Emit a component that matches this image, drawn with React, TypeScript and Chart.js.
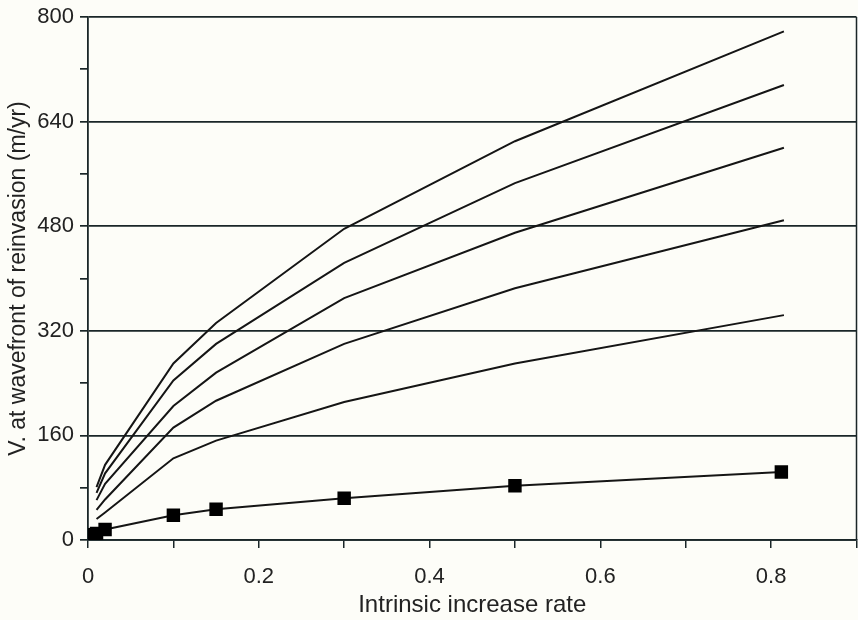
import React, { useEffect, useRef } from "react";
import { Chart, registerables } from "chart.js";

Chart.register(...registerables);

const rateUpper = [0.01, 0.02, 0.1, 0.15, 0.3, 0.5, 0.815];
const curve1 = [81, 115, 270, 332, 476, 610, 778];
const curve2 = [72, 102, 244, 300, 424, 546, 696];
const curve3 = [61, 86, 205, 256, 370, 470, 600];
const curve4 = [46, 62, 172, 213, 300, 385, 489];
const curve5 = [32, 42, 125, 152, 211, 270, 344];

const rateLower = [0.005, 0.01, 0.02, 0.1, 0.15, 0.3, 0.5, 0.812];
const lowerSeries = [8, 10, 16, 38, 47, 64, 83, 104];

const xTickValues = [0, 0.2, 0.4, 0.6, 0.8];
const yTickValues = [0, 160, 320, 480, 640, 800];

const INK = "#151515";
const GRID = "#1a2628";
const BG = "#fdfdf8";
const FONT = "'Liberation Sans', Arial, sans-serif";

function pts(xs: number[], ys: number[]) {
  return xs.map((x, i) => ({ x, y: ys[i] }));
}

const rightBorder = {
  id: "rightBorder",
  afterDraw(chart: any) {
    const { ctx, chartArea } = chart;
    ctx.save();
    ctx.strokeStyle = GRID;
    ctx.lineWidth = 1.5;
    ctx.beginPath();
    ctx.moveTo(chartArea.right, chartArea.top);
    ctx.lineTo(chartArea.right, chartArea.bottom);
    ctx.stroke();
    ctx.restore();
  },
};

export default function App() {
  const ref = useRef<HTMLCanvasElement | null>(null);
  useEffect(() => {
    if (!ref.current) return;
    const lineDs = (data: number[]) => ({
      data: pts(rateUpper, data),
      borderColor: INK,
      backgroundColor: INK,
      borderWidth: 2,
      pointRadius: 0,
      tension: 0,
    });
    const chart = new Chart(ref.current, {
      type: "line",
      data: {
        datasets: [
          lineDs(curve1),
          lineDs(curve2),
          lineDs(curve3),
          lineDs(curve4),
          lineDs(curve5),
          {
            data: pts(rateLower, lowerSeries),
            borderColor: INK,
            backgroundColor: "#000",
            borderWidth: 2,
            pointStyle: "rect",
            pointRadius: 9.5,
            pointBorderWidth: 0,
            tension: 0,
          },
        ],
      },
      options: {
        animation: false,
        responsive: false,
        plugins: { legend: { display: false }, tooltip: { enabled: false } },
        layout: { padding: { top: 17, right: 0, left: 0, bottom: 0 } },
        scales: {
          x: {
            type: "linear",
            min: 0,
            max: 0.9,
            afterFit: (s: any) => {
              s.height = 80;
              s.paddingLeft = 0;
              s.paddingRight = 0;
            },
            ticks: {
              stepSize: 0.1,
              autoSkip: false,
              maxRotation: 0,
              padding: 16,
              color: "#222",
              font: { family: FONT, size: 22 },
              callback: (v: any) => {
                const n = Math.round(Number(v) * 10) / 10;
                return xTickValues.some((t) => Math.abs(t - n) < 1e-6) ? (n === 0 ? "0" : n.toFixed(1)) : "";
              },
            },
            grid: {
              drawOnChartArea: false,
              tickLength: 8,
              tickColor: GRID,
              lineWidth: 1.5,
            },
            border: { color: GRID, width: 1.8 },
            title: {
              display: true,
              text: "Intrinsic increase rate",
              color: "#222",
              font: { family: FONT, size: 24 },
              padding: { top: 0, bottom: 0 },
            },
          },
          y: {
            type: "linear",
            min: 0,
            max: 800,
            afterFit: (s: any) => {
              s.width = 88;
              s.paddingTop = 0;
              s.paddingBottom = 0;
            },
            ticks: {
              stepSize: 80,
              autoSkip: false,
              padding: 6,
              color: "#222",
              font: { family: FONT, size: 22 },
              callback: (v: any) => (yTickValues.includes(Number(v)) ? String(v) : ""),
            },
            grid: {
              tickLength: 8,
              lineWidth: 1.7,
              color: (c: any) => (c.tick && c.tick.value % 160 === 0 ? GRID : "rgba(0,0,0,0)"),
              tickColor: GRID,
            },
            border: { color: GRID, width: 1.8 },
            title: {
              display: true,
              text: "V. at wavefront of reinvasion (m/yr)",
              color: "#222",
              font: { family: FONT, size: 23 },
              padding: { top: 5, bottom: 4 },
            },
          },
        },
      },
      plugins: [rightBorder],
    });
    return () => chart.destroy();
  }, []);
  return (
    <div style={{ position: "absolute", left: 0, top: 0, width: 858, height: 620, background: BG, overflow: "hidden" }}>
      <canvas ref={ref} width={866} height={620} style={{ display: "block" }} />
    </div>
  );
}
